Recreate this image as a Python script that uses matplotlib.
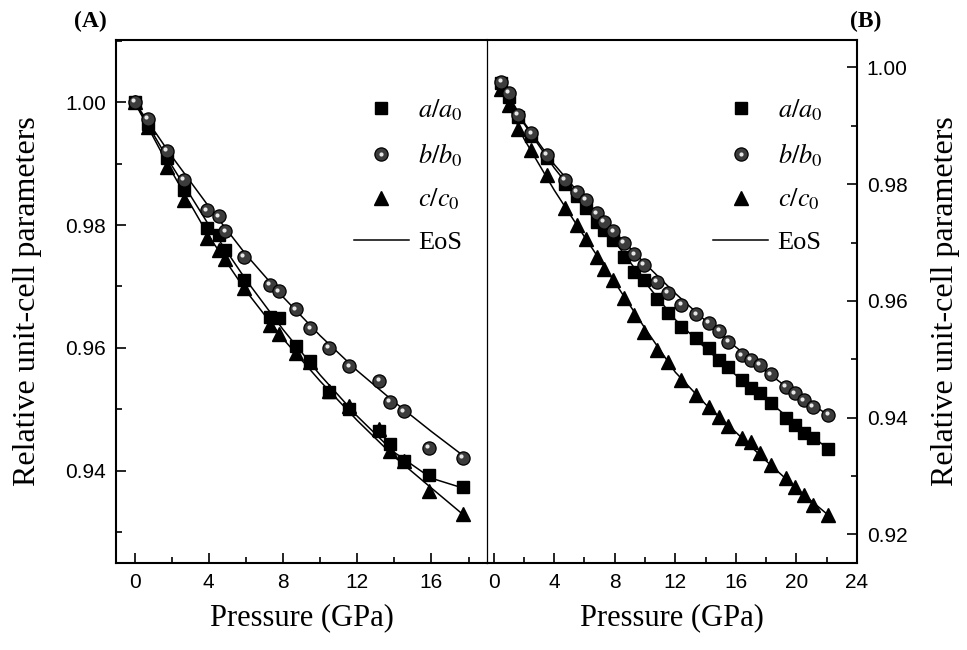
import matplotlib
matplotlib.use('Agg')
import matplotlib.pyplot as plt
from matplotlib.lines import Line2D
from matplotlib.legend_handler import HandlerTuple
from matplotlib.ticker import MultipleLocator
import matplotlib.transforms as mtransforms

plt.rcParams['mathtext.fontset'] = 'stix'

# ---- panel A data
p_a = [0.0, 0.7, 1.75, 2.65, 3.9, 4.55, 4.9, 5.88, 7.3, 7.76, 8.7, 9.47,
       10.46, 11.57, 13.2, 13.75, 14.5, 15.85, 17.68]
a_a = [1.000, 0.9965, 0.9909, 0.9857, 0.9795, 0.9784, 0.9760, 0.9711, 0.9651, 0.9649,
       0.9603, 0.9578, 0.9529, 0.9500, 0.9465, 0.9444, 0.9416, 0.9394, 0.9374]
b_a = [1.000, 0.9973, 0.9921, 0.9874, 0.9824, 0.9814, 0.9790, 0.9748, 0.9703, 0.9692,
       0.9663, 0.9632, 0.9600, 0.9570, 0.9546, 0.9512, 0.9497, 0.9437, 0.9421]
c_a = [1.000, 0.9960, 0.9894, 0.9841, 0.9779, 0.9760, 0.9744, 0.9698, 0.9638, 0.9622,
       0.9592, 0.9577, 0.9530, 0.9506, 0.9468, 0.9432, 0.9416, 0.9367, 0.9329]

# EoS curves, panel A
eos_p_a = [0, 2, 4, 6, 8, 10, 12, 14, 16, 17.7]
eos_a_a = [1.000, 0.9897, 0.9800, 0.9711, 0.9630, 0.9556, 0.9489, 0.9430, 0.9388, 0.9372]
eos_b_a = [1.000, 0.9912, 0.9830, 0.9752, 0.9683, 0.9620, 0.9563, 0.9512, 0.9464, 0.9425]
eos_c_a = [1.000, 0.9887, 0.9782, 0.9693, 0.9615, 0.9546, 0.9482, 0.9423, 0.9372, 0.9329]

# ---- panel B data
p_b = [0.5, 1.0, 1.6, 2.5, 3.5, 4.7, 5.5, 6.1, 6.8, 7.3, 7.9, 8.6, 9.3, 9.9, 10.8,
       11.5, 12.4, 13.4, 14.2, 14.9, 15.5, 16.4, 17.0, 17.6, 18.3, 19.3, 19.9, 20.5,
       21.1, 22.1]
a_b = [0.9973, 0.9950, 0.9915, 0.9882, 0.9845, 0.9800, 0.9779, 0.9760, 0.9736, 0.9722,
       0.9705, 0.9675, 0.9650, 0.9636, 0.9603, 0.9580, 0.9556, 0.9537, 0.9519, 0.9499,
       0.9487, 0.9465, 0.9451, 0.9442, 0.9425, 0.9400, 0.9388, 0.9374, 0.9365, 0.9347]
b_b = [0.9975, 0.9956, 0.9919, 0.9887, 0.9850, 0.9807, 0.9787, 0.9773, 0.9750, 0.9736,
       0.9719, 0.9699, 0.9680, 0.9662, 0.9633, 0.9614, 0.9593, 0.9577, 0.9562, 0.9549,
       0.9530, 0.9507, 0.9499, 0.9490, 0.9474, 0.9453, 0.9442, 0.9430, 0.9419, 0.9405]
c_b = [0.9963, 0.9936, 0.9895, 0.9859, 0.9815, 0.9760, 0.9730, 0.9706, 0.9676, 0.9655,
       0.9636, 0.9605, 0.9576, 0.9547, 0.9516, 0.9496, 0.9465, 0.9439, 0.9419, 0.9402,
       0.9385, 0.9365, 0.9359, 0.9339, 0.9319, 0.9296, 0.9282, 0.9267, 0.9250, 0.9233]

eos_p_b = [0.5, 2, 4, 6, 8, 10, 12, 14, 16, 18, 20, 22.2]
eos_a_b = [0.9973, 0.9904, 0.9828, 0.9763, 0.9702, 0.9632, 0.9568, 0.9519, 0.9473, 0.9432, 0.9388, 0.9345]
eos_b_b = [0.9975, 0.9906, 0.9834, 0.9774, 0.9718, 0.9664, 0.9613, 0.9566, 0.9521, 0.9479, 0.9440, 0.9403]
eos_c_b = [0.9963, 0.9878, 0.9790, 0.9710, 0.9632, 0.9553, 0.9478, 0.9423, 0.9375, 0.9326, 0.9279, 0.9231]

labels = [r'$\mathit{a/a_0}$', r'$\mathit{b/b_0}$', r'$\mathit{c/c_0}$', 'EoS']

serif = 'Liberation Serif'
sans = 'Liberation Sans'

fig = plt.figure(figsize=(9.67, 6.5), dpi=100)
ax1 = fig.add_axes([0.120, 0.1338, 0.3837, 0.8046])
ax2 = fig.add_axes([0.5036, 0.1338, 0.3826, 0.8046])
ax2.patch.set_alpha(0)


def draw(ax, p, a, b, c, ep, ea, eb, ec):
    for ey in (ea, eb, ec):
        ax.plot(ep, ey, '-', color='black', lw=1.1, zorder=2)
    ax.plot(p, a, 's', ms=8.5, color='black', zorder=3)
    ax.plot(p, c, '^', ms=10, color='black', zorder=3)
    ax.plot(p, b, 'o', ms=9.5, mfc='#3c3c3c', mec='black', mew=0.9, zorder=4)
    shift = mtransforms.ScaledTranslation(-1.2 / 72, 1.2 / 72, fig.dpi_scale_trans)
    ax.plot(p, b, 'o', ms=3, color='#e6e6e6', mew=0, zorder=5,
            transform=ax.transData + shift)


draw(ax1, p_a, a_a, b_a, c_a, eos_p_a, eos_a_a, eos_b_a, eos_c_a)
draw(ax2, p_b, a_b, b_b, c_b, eos_p_b, eos_a_b, eos_b_b, eos_c_b)

ax1.set_xlim(-1, 19)
ax1.set_ylim(0.925, 1.0101)
ax2.set_xlim(-0.44, 24)
ax2.set_ylim(0.9151, 1.0047)

for ax in (ax1, ax2):
    ax.xaxis.set_major_locator(MultipleLocator(4))
    ax.xaxis.set_minor_locator(MultipleLocator(2))
    ax.yaxis.set_major_locator(MultipleLocator(0.02))
    ax.yaxis.set_minor_locator(MultipleLocator(0.01))
    ax.tick_params(which='both', direction='in', labelsize=15, width=1.2)
    ax.tick_params(which='major', length=7)
    ax.tick_params(which='minor', length=4)
    ax.tick_params(axis='x', pad=7)
    ax.tick_params(axis='y', pad=7)
    for s in ax.spines.values():
        s.set_linewidth(1.5)
    ax.set_xlabel('Pressure (GPa)', family=serif, fontsize=22, labelpad=8)

ax1.tick_params(top=False, right=False)
ax1.spines['right'].set_linewidth(0.9)
ax2.spines['left'].set_visible(False)
ax2.yaxis.tick_right()
ax2.tick_params(which='both', left=False, right=True, top=False)
ax1.set_yticks([0.94, 0.96, 0.98, 1.00])
ax1.set_yticklabels(['0.94', '0.96', '0.98', '1.00'], family=sans)
ax2.set_yticks([0.92, 0.94, 0.96, 0.98, 1.00])
ax2.set_yticklabels(['0.92', '0.94', '0.96', '0.98', '1.00'], family=sans)
ax1.set_xticks([0, 4, 8, 12, 16])
ax1.set_xticklabels(['0', '4', '8', '12', '16'], family=sans)
ax2.set_xticks([0, 4, 8, 12, 16, 20, 24])
ax2.set_xticklabels(['0', '4', '8', '12', '16', '20', '24'], family=sans)

ax1.set_ylabel('Relative unit-cell parameters', family=serif, fontsize=23)
ax1.yaxis.set_label_coords(-0.2, 0.5)
ax2.yaxis.set_label_position('right')
ax2.set_ylabel('Relative unit-cell parameters', family=serif, fontsize=23,
               rotation=90)
ax2.yaxis.set_label_coords(1.2, 0.5)

fig.text(0.093, 0.967, '(A)', family=serif, fontweight='bold', fontsize=17,
         ha='center', va='center')
fig.text(0.895, 0.967, '(B)', family=serif, fontweight='bold', fontsize=17,
         ha='center', va='center')

# legends
for ax, anchor in ((ax1, (0.605, 0.915)), (ax2, (0.575, 0.915))):
    h_a = Line2D([], [], marker='s', ls='none', ms=8.5, color='black')
    h_b1 = Line2D([], [], marker='o', ls='none', ms=9.5, mfc='#3c3c3c', mec='black', mew=0.9)
    h_b2 = Line2D([], [], marker='o', ls='none', ms=3, color='#e6e6e6', mew=0)
    h_c = Line2D([], [], marker='^', ls='none', ms=10, color='black')
    h_e = Line2D([], [], ls='-', color='black', lw=1.1)
    leg = ax.legend([h_a, (h_b1, h_b2), h_c, h_e], labels,
                    handler_map={tuple: HandlerTuple(ndivide=1)},
                    loc='upper left', bbox_to_anchor=anchor, frameon=False,
                    prop={'family': serif, 'size': 19}, handlelength=2.1,
                    handletextpad=0.35, labelspacing=0.68, borderpad=0, numpoints=1)

fig.savefig('out.png', dpi=100)
